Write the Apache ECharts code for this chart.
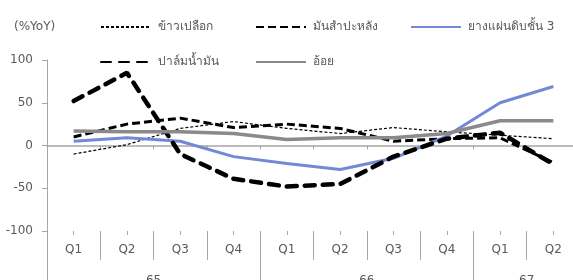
<!DOCTYPE html>
<html>
<head>
<meta charset="utf-8">
<script src="https://cdn.jsdelivr.net/npm/echarts@6/dist/echarts.min.js"></script>
<style>html,body{margin:0;padding:0;background:#fff}#c{width:573px;height:280px}</style>
</head>
<body>
<div id="c"></div>
<script>
const quarters = ['Q1','Q2','Q3','Q4','Q1','Q2','Q3','Q4','Q1','Q2'];
const years = ['65','66','67'];
const yearSpans = [4,4,2];
const yTicks = [-100,-50,0,50,100];

const rice      = [-10, 1, 20, 28, 20, 14, 21, 16, 12, 8];
const cassava   = [10, 25, 32, 21, 25, 20, 5, 8, 9, -20];
const rubber    = [5, 9, 5, -13, -21, -28, -15, 11, 50, 69];
const palm      = [52, 85, -10, -39, -48, -45, -13, 8, 15, -22];
const sugarcane = [17, 16, 16, 14, 7, 9, 9, 14, 29, 29];

const names = ['ข้าวเปลือก','มันสำปะหลัง','ยางแผ่นดิบชั้น 3','ปาล์มน้ำมัน','อ้อย'];

const FONT = 'Tahoma, "DejaVu Sans", "Noto Sans", sans-serif';
const AX = '#a6a6a6';
const TXT = '#595959';

const yearStarts = [], yearCenters = [];
let acc = 0;
yearSpans.forEach(s => { yearStarts.push(acc); yearCenters.push(acc + s / 2); acc += s; });

const chart = echarts.init(document.getElementById('c'), null, {renderer: 'canvas'});

function legend(name, left, top) {
  return {
    data: [name], left: left, top: top, itemWidth: 50, itemHeight: 14,
    itemStyle: {opacity: 0},
    textStyle: {fontFamily: FONT, fontSize: 12, color: TXT, padding: [0,0,0,2]},
    selectedMode: false
  };
}

const option = {
  animation: false,
  title: {text: '(%YoY)', left: 9, top: 16, textStyle: {fontFamily: FONT, fontSize: 12, fontWeight: 'normal', color: TXT}},
  legend: [
    legend(names[0], 95, 16),
    legend(names[1], 250, 16),
    legend(names[2], 405, 16),
    legend(names[3], 95, 51),
    legend(names[4], 250, 51)
  ],
  grid: {left: 47, right: -7, top: 60, bottom: 49, containLabel: false, outerBoundsMode: 'none'},
  yAxis: {
    type: 'value', min: yTicks[0], max: yTicks[yTicks.length - 1], interval: 50,
    axisLine: {show: true, lineStyle: {color: AX, width: 1}},
    axisTick: {show: true, length: 5, lineStyle: {color: AX}},
    axisLabel: {fontFamily: FONT, fontSize: 12, color: TXT, margin: 14},
    splitLine: {show: false}
  },
  xAxis: [
    {
      type: 'category', data: quarters, position: 'bottom',
      axisLine: {onZero: true, lineStyle: {color: AX, width: 1.5}},
      axisTick: {show: true, length: 4, lineStyle: {color: AX}},
      axisLabel: {show: false}, splitLine: {show: false}
    },
    {
      type: 'category', data: quarters, position: 'bottom',
      axisLine: {show: false, onZero: true},
      axisTick: {show: true, alignWithLabel: true, length: 4, lineStyle: {color: AX}},
      axisLabel: {show: false}, splitLine: {show: false}
    },
    {
      type: 'category', data: quarters, position: 'bottom',
      axisLine: {show: false, onZero: false},
      axisTick: {show: true, length: 29, lineStyle: {color: AX}},
      axisLabel: {fontFamily: FONT, fontSize: 12, color: TXT, margin: 13},
      splitLine: {show: false}
    },
    {
      type: 'value', min: 0, max: quarters.length, position: 'bottom',
      axisLine: {show: false, onZero: false},
      axisTick: {show: true, length: 55, customValues: yearStarts, lineStyle: {color: AX}},
      axisLabel: {
        fontFamily: FONT, fontSize: 12, color: TXT, margin: 44,
        customValues: yearCenters,
        formatter: v => { const i = yearCenters.indexOf(v); return i >= 0 ? years[i] : ''; }
      },
      splitLine: {show: false}
    }
  ],
  series: [
    {name: names[0], type: 'line', data: rice, symbol: 'none', xAxisIndex: 0,
     lineStyle: {color: '#000', width: 1.2, type: [3, 2]}, itemStyle: {color: '#000'}},
    {name: names[1], type: 'line', data: cassava, symbol: 'none', xAxisIndex: 0,
     lineStyle: {color: '#000', width: 3, type: [8, 4]}, itemStyle: {color: '#000'}},
    {name: names[2], type: 'line', data: rubber, symbol: 'none', xAxisIndex: 0,
     lineStyle: {color: '#7389d6', width: 3}, itemStyle: {color: '#7389d6'}},
    {name: names[3], type: 'line', data: palm, symbol: 'none', xAxisIndex: 0,
     lineStyle: {color: '#000', width: 4.5, type: [10, 8], cap: 'round'}, itemStyle: {color: '#000'}},
    {name: names[4], type: 'line', data: sugarcane, symbol: 'none', xAxisIndex: 0,
     lineStyle: {color: '#8a8a8a', width: 3.5}, itemStyle: {color: '#8a8a8a'}}
  ]
};
chart.setOption(option);
</script>
</body>
</html>
